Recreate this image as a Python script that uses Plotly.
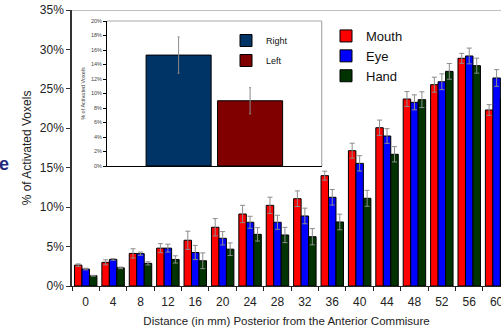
import plotly.graph_objects as go

# Distance bins (mm posterior to the anterior commissure)
distance = ["0", "4", "8", "12", "16", "20", "24", "28", "32", "36", "40", "44", "48", "52", "56", "60"]

# Percentage of activated voxels per effector, with standard errors
mouth = [2.65, 3.0, 4.13, 4.8, 5.8, 7.45, 9.13, 10.23, 11.07, 13.99, 17.16, 20.07, 23.71, 25.53, 28.87, 22.32]
mouth_err = [0.15, 0.32, 0.59, 0.57, 1.15, 1.1, 1.1, 1.03, 0.99, 0.57, 0.95, 0.97, 0.95, 0.95, 0.63, 0.68]
eye = [2.15, 3.37, 4.1, 4.8, 4.25, 6.05, 8.08, 8.08, 8.88, 11.25, 15.55, 19.02, 23.29, 25.9, 29.17, 26.38]
eye_err = [0.1, 0.1, 0.2, 0.5, 0.9, 0.85, 0.76, 0.89, 0.99, 0.99, 0.97, 0.93, 0.95, 1.0, 1.0, 1.06]
hand = [1.3, 2.3, 2.87, 3.37, 3.2, 4.67, 6.55, 6.47, 6.25, 8.12, 11.12, 16.7, 23.63, 27.22, 27.94, 23.7]
hand_err = [0.05, 0.1, 0.2, 0.46, 1.0, 0.8, 0.85, 0.97, 1.03, 0.99, 1.01, 0.97, 1.0, 1.0, 0.95, 0.9]

# Hemisphere comparison (inset)
hemi_names = ["Right", "Left"]
hemi_vals = [15.3, 9.0]
hemi_err = [2.5, 1.8]

main_ticks = [0, 5, 10, 15, 20, 25, 30, 35]
inset_ticks = [0, 2, 4, 6, 8, 10, 12, 14, 16, 18, 20]

FONT = "Liberation Sans, Arial, sans-serif"
W, H = 501, 331
ML, MT, MB = 72, 10, 45
plot_w = W - ML
plot_h = H - MT - MB


def px_x(p):
    return (p - ML) / plot_w


def px_y(p):
    return (H - MB - p) / plot_h


def pct_labels(vals):
    return [f"{v}%" for v in vals]


fig = go.Figure()

series = [
    ("Mouth", mouth, mouth_err, "#ff0000"),
    ("Eye", eye, eye_err, "#0000ff"),
    ("Hand", hand, hand_err, "#003300"),
]
for name, vals, errs, color in series:
    fig.add_trace(go.Bar(
        x=distance, y=vals, name=name,
        marker=dict(color=color, line=dict(color="#000000", width=1)),
        error_y=dict(type="data", array=errs, color="#8c8c8c", thickness=1, width=2.5),
        xaxis="x", yaxis="y", legend="legend",
    ))

hemi_colors = ["#003366", "#800000"]
hemi_offsets = [-0.318, 0.015]
for name, val, err, color, off in zip(hemi_names, hemi_vals, hemi_err, hemi_colors, hemi_offsets):
    fig.add_trace(go.Bar(
        x=[0], y=[val], name=name, offset=off, width=0.303,
        marker=dict(color=color, line=dict(color="#000000", width=1)),
        error_y=dict(type="data", array=[err], color="#8c8c8c", thickness=1, width=1),
        xaxis="x2", yaxis="y2", legend="legend2", legendgroup=name,
    ))

inset_x0, inset_x1 = px_x(107), px_x(321.7)
inset_y0, inset_y1 = px_y(166), px_y(21)

fig.update_layout(
    width=W, height=H,
    margin=dict(l=ML, r=0, t=MT, b=MB, autoexpand=False),
    paper_bgcolor="white", plot_bgcolor="white",
    font=dict(family=FONT, color="#222222", size=12),
    barmode="group", bargap=0.18, bargroupgap=0,
    xaxis=dict(
        domain=[0, 1], range=[-0.5, 15.16], type="category",
        showline=True, linecolor="#222222", linewidth=1.3,
        ticks="outside", tickson="boundaries", ticklen=4, tickcolor="#222222",
        tickfont=dict(size=12), ticklabelstandoff=4, showgrid=False, zeroline=False,
        title=dict(text="Distance (in mm) Posterior from the Anterior Commisure",
                   font=dict(size=11.5), standoff=9),
    ),
    yaxis=dict(
        domain=[0, 1], range=[0, 35], tickvals=main_ticks, ticktext=pct_labels(main_ticks),
        showline=True, linecolor="#333333", linewidth=1.5,
        ticks="outside", ticklen=4, tickcolor="#333333",
        tickfont=dict(size=12), showgrid=False, zeroline=False,
        title=dict(text="% of Activated Voxels", font=dict(size=12), standoff=6),
    ),
    xaxis2=dict(
        domain=[inset_x0, inset_x1], anchor="y2", range=[-0.5, 0.5],
        showline=True, linecolor="#000000", linewidth=1,
        showticklabels=False, ticks="", showgrid=False, zeroline=False,
    ),
    yaxis2=dict(
        domain=[inset_y0, inset_y1], anchor="x2", range=[0, 20],
        tickvals=inset_ticks, ticktext=pct_labels(inset_ticks),
        showline=True, linecolor="#000000", linewidth=1,
        ticks="outside", ticklen=3, tickcolor="#000000",
        tickfont=dict(size=5.5, color="#444444"), showgrid=False, zeroline=False,
        title=dict(text="% of Activated Voxels", font=dict(size=5.5, color="#444444"), standoff=4),
    ),
    legend=dict(
        x=px_x(326), y=px_y(21), xanchor="left", yanchor="top",
        bgcolor="rgba(0,0,0,0)", font=dict(size=13, color="#111111"),
        tracegroupgap=0,
    ),
    legend2=dict(
        x=px_x(226), y=px_y(26), xanchor="left", yanchor="top",
        bgcolor="rgba(0,0,0,0)", font=dict(size=9, color="#111111"),
        tracegroupgap=1,
    ),
    shapes=[
        # grey frame line along the 35% level of the main panel
        dict(type="line", xref="x domain", yref="y", x0=0, x1=1, y0=35, y1=35,
             line=dict(color="#aaaaaa", width=1.5)),
        # grey top and right frame of the inset panel
        dict(type="line", xref="x2 domain", yref="y2 domain", x0=0, x1=1, y0=1, y1=1,
             line=dict(color="#aaaaaa", width=1.2)),
        dict(type="line", xref="x2 domain", yref="y2 domain", x0=1, x1=1, y0=0, y1=1,
             line=dict(color="#aaaaaa", width=1.2)),
    ],
    annotations=[
        dict(text="<b>e</b>", xref="paper", yref="paper", x=px_x(3.5), y=px_y(164),
             xanchor="center", yanchor="middle", showarrow=False,
             font=dict(size=18, color="#1f2a7a")),
    ],
)

fig.write_html("out.html")
